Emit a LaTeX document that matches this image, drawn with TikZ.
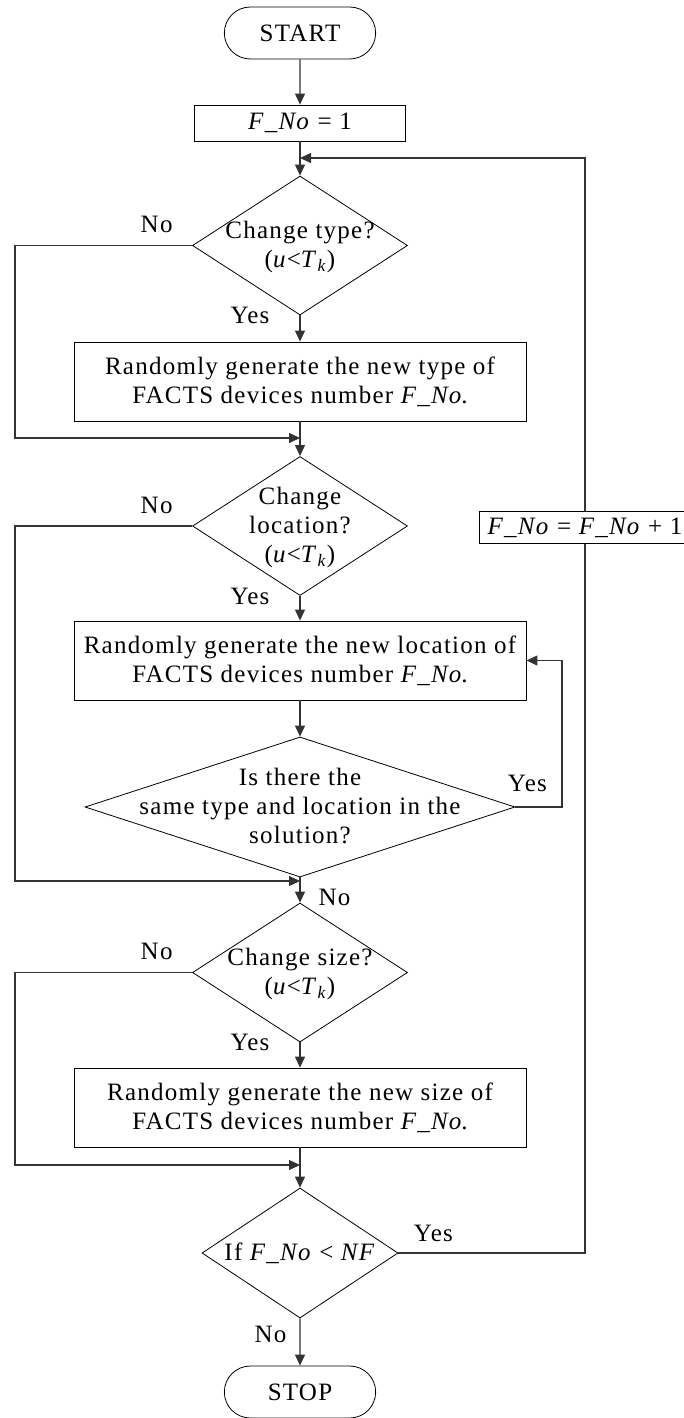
\documentclass[tikz,border=0pt]{standalone}
\usepackage{fontspec}
\setmainfont[LetterSpace=5]{Liberation Serif}
\usetikzlibrary{arrows.meta, positioning, shapes.geometric, shapes.misc}

\newcommand{\fno}{\textit{F\_No}}
\newcommand{\utk}{(\textit{u}<\textit{T}\textsubscript{\textit{k}})}
% text of a decision box, kept from resizing the diamond
\newcommand{\dtext}[1]{\raisebox{-8pt}[0pt][0pt]{\makebox[0pt]{\begin{tabular}{@{}c@{}}#1\end{tabular}}}}

\tikzset{
  >={Triangle[length=11pt,width=10pt]}, % filled arrow heads
  every node/.style={font=\fontsize{25}{29}\selectfont},
  terminal/.style={draw, rounded rectangle, minimum width=158pt, minimum height=52pt},
  process/.style={draw, rectangle, align=center, minimum width=452pt, minimum height=79pt},
  decision/.style={draw, diamond, inner sep=0pt, minimum width=215pt, minimum height=139pt},
  lbl/.style={inner sep=0pt},
  conn/.style={->, draw=black!80, line width=1.1pt},
}

\begin{document}
\begin{tikzpicture}[x=1pt, y=-1pt, line width=0.8pt]
    \useasboundingbox (0,0) rectangle (683,1418);

    \node[terminal] (start) at (300,33) {START};
    \node[process, below of=start, node distance=90pt, minimum width=211pt,
      minimum height=36pt] (init) {\fno{} = 1};
    \node[decision, below of=init, node distance=122.5pt] (type) {\dtext{Change type?\\\utk}};
    \node[process, below of=type, node distance=136pt] (newtype) {Randomly generate the new type of\\FACTS devices number \fno.};
    \node[decision, below of=newtype, node distance=144.5pt] (loc) {\dtext{Change\\location?\\\utk}};
    \node[process, below of=loc, node distance=134.5pt] (newloc) {Randomly generate the new location of\\FACTS devices number \fno.};
    \node[decision, below of=newloc, node distance=146.5pt, minimum width=430pt,
      minimum height=140pt] (same) {\dtext{Is there the\\same type and location in the\\solution?}};
    \node[decision, below of=same, node distance=165.5pt] (size) {\dtext{Change size?\\\utk}};
    \node[process, below of=size, node distance=135pt] (newsize) {Randomly generate the new size of\\FACTS devices number \fno.};
    \node[decision, below of=newsize, node distance=145.5pt, minimum width=196pt,
      minimum height=130pt] (more) {\dtext{If \fno{} < \textit{NF}}};
    \node[terminal, below of=more, node distance=139pt] (stop) {STOP};
    \node[process, minimum width=212pt, minimum height=32pt] (inc) at (585,527.5) {\fno{} = \fno{} + 1};

    % joins on the main line and the left rail
    \coordinate (m0) at (300,158);
    \coordinate (m1) at (300,438);
    \coordinate (m2) at (300,881);
    \coordinate (m3) at (300,1165);
    \coordinate (rail) at (15,0);
    \coordinate (back) at (562,0);

    \draw[conn] (start) -- (init);
    \draw[conn] (init) -- (type);
    \draw[conn] (type.south) node[lbl, anchor=south east, xshift=-30pt, yshift=-9pt] {Yes} -- (newtype);
    \draw[conn] (type.west) node[lbl, anchor=south east, xshift=-19pt, yshift=12pt] {No}
      -| (rail |- m1) -- (m1);
    \draw[conn] (newtype) -- (loc);
    \draw[conn] (loc.south) node[lbl, anchor=south east, xshift=-30pt, yshift=-9pt] {Yes} -- (newloc);
    \draw[conn] (loc.west) node[lbl, anchor=south east, xshift=-19pt, yshift=12pt] {No}
      -| (rail |- m2) -- (m2);
    \draw[conn] (newloc) -- (same);
    \draw[conn] (same.east) node[lbl, anchor=south west, xshift=-8pt, yshift=15pt] {Yes}
      -| (back |- newloc.east) -- (newloc.east);
    \draw[conn] (same.south) -- (m2) node[lbl, anchor=north west, xshift=18pt, yshift=-8pt] {No} -- (size);
    \draw[conn] (size.south) node[lbl, anchor=south east, xshift=-30pt, yshift=-9pt] {Yes} -- (newsize);
    \draw[conn] (size.west) node[lbl, anchor=south east, xshift=-19pt, yshift=12pt] {No}
      -| (rail |- m3) -- (m3);
    \draw[conn] (newsize) -- (more);
    \draw[conn] (more.south) node[lbl, anchor=south east, xshift=-13pt, yshift=-25pt] {No} -- (stop);
    \draw[-, draw=black!80, line width=1.1pt] (more.east) node[lbl, anchor=south west, xshift=15pt, yshift=11pt] {Yes}
      -| (inc.south);
    \draw[conn] (inc.north) |- (m0);
\end{tikzpicture}
\end{document}
